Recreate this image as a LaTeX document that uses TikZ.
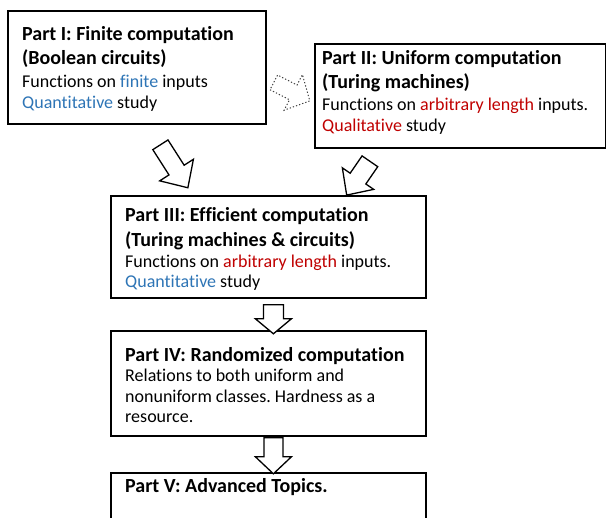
\documentclass[tikz,border=0pt]{standalone}
\usepackage{fontspec}
\setmainfont{Carlito}[Ligatures={NoCommon}]
\usetikzlibrary{shadows,calc}
\definecolor{qblue}{RGB}{46,117,182}
\definecolor{qred}{RGB}{192,0,0}
\frenchspacing

\begin{document}
\begin{tikzpicture}[x=1pt,y=1pt,
  partbox/.style={draw=black, line width=1.8pt, fill=white, inner sep=0pt,
    anchor=north west,
    drop shadow={shadow xshift=1.5pt, shadow yshift=-1.5pt, opacity=0.25}},
  headline/.style={anchor=base west, inner sep=0pt,
    font=\fontsize{20}{24}\selectfont\bfseries},
  bodyline/.style={anchor=base west, inner sep=0pt,
    font=\fontsize{18}{21}\selectfont},
  % block arrow: {length}{shaft width}{head width}{head length}{extra style}
  pics/blockarrow/.style n args={5}{code={
    \draw[line width=1.3pt, fill=white, line join=miter, #5]
      (0,-#2/2) -- (#1-#4,-#2/2) -- (#1-#4,-#3/2) -- (#1,0)
      -- (#1-#4,#3/2) -- (#1-#4,#2/2) -- (0,#2/2) -- cycle;}},
]
\useasboundingbox (0,0) rectangle (606,-518);

% boxes
\node[partbox, minimum width=258, minimum height=113] (p1) at (7,-10) {};
\node[partbox, minimum width=291, minimum height=104] (p2) at (314,-43) {};
\node[partbox, minimum width=315, minimum height=102] (p3) at (110,-195) {};
\node[partbox, minimum width=315, minimum height=105] (p4) at (110,-330) {};
\node[partbox, minimum width=315, minimum height=70] (p5) at (110,-472) {};

% Part I
\node[headline] (p1a) at (22,-41) {Part I: Finite computation};
\node[headline] (p1b) at (22,-65) {(Boolean circuits)};
\node[bodyline] (p1c) at (22,-88) {Functions on \textcolor{qblue}{finite} inputs};
\node[bodyline] (p1d) at (22,-109) {\textcolor{qblue}{Quantitative} study};

% Part II
\node[headline] (p2a) at (322,-65) {Part II: Uniform computation};
\node[headline] (p2b) at (322,-89) {(Turing machines)};
\node[bodyline] (p2c) at (322,-111) {Functions on \textcolor{qred}{arbitrary length} inputs.};
\node[bodyline] (p2d) at (322,-132) {\textcolor{qred}{Qualitative} study};

% Part III
\node[headline] (p3a) at (125,-222) {Part III: Efficient computation};
\node[headline] (p3b) at (125,-247) {(Turing machines \& circuits)};
\node[bodyline] (p3c) at (125,-268) {Functions on \textcolor{qred}{arbitrary length} inputs.};
\node[bodyline] (p3d) at (125,-288) {\textcolor{qblue}{Quantitative} study};

% Part IV
\node[headline] (p4a) at (125,-362) {Part IV: Randomized computation};
\node[bodyline] (p4b) at (125,-382) {Relations to both uniform and};
\node[bodyline] (p4c) at (125,-403) {nonuniform classes. Hardness as a};
\node[bodyline] (p4d) at (125,-423) {resource.};

% Part V
\node[headline] (p5a) at (125,-493) {Part V: Advanced Topics.};

% connecting block arrows
\pic[rotate=-27.2] at ($(p1.east)+(7,-15)$)
  {blockarrow={40.5}{16.5}{40}{18.6}{dotted, line width=1pt, draw=black!75}};
\pic[rotate=-57.4] at ($(p1.south)+(23.5,-20)$) {blockarrow={51}{18}{40}{21}{}};
\pic[rotate=-124.5] at ($(p2.south)+(-90.5,-12.5)$) {blockarrow={41}{19}{38}{20}{}};
\pic[rotate=-90] at ($(p3.south)+(5,-6)$) {blockarrow={29}{20}{36}{15}{}};
\pic[rotate=-90] at ($(p4.south)+(5,-1)$) {blockarrow={36}{19}{36}{17}{}};
\end{tikzpicture}
\end{document}
